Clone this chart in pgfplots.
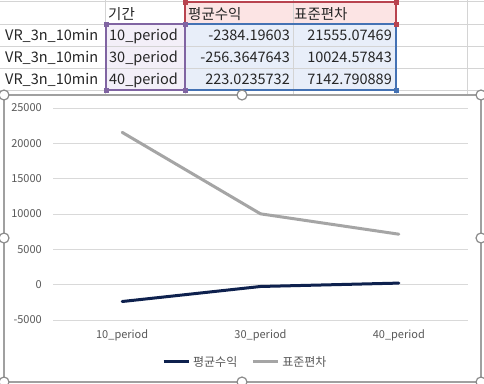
\documentclass[border=0pt]{standalone}
\usepackage{pgfplots}
\pgfplotsset{compat=1.18}
\usepackage{fontspec}
\setmainfont{Noto Sans CJK KR}
\definecolor{navy}{RGB}{14,33,78}
\definecolor{lgray}{RGB}{165,165,165}
\definecolor{gridc}{RGB}{217,217,217}
\definecolor{sheetgrid}{RGB}{212,212,212}
\definecolor{tickc}{RGB}{89,89,89}
\definecolor{chartb}{RGB}{160,160,160}
\definecolor{handle}{RGB}{140,140,140}
\definecolor{purp}{RGB}{128,100,162}
\definecolor{purpfill}{RGB}{243,239,248}
\definecolor{redb}{RGB}{184,67,79}
\definecolor{redfill}{RGB}{252,228,228}
\definecolor{blueb}{RGB}{68,114,180}
\definecolor{bluefill}{RGB}{232,238,249}
\begin{document}
\begin{tikzpicture}
\path[use as bounding box, clip] (0,0) rectangle (484pt,-383pt);
\fill[white] (0,0) rectangle (484pt,-383pt);
\begin{scope}[x=1pt,y=-1pt]
  % fills
  \fill[purpfill] (106,24) rectangle (185,90);
  \fill[redfill] (185,1) rectangle (396,24);
  \fill[bluefill] (185,24) rectangle (396,90);
  % sheet grid
  \foreach \yy in {1,24,46,68,90} \draw[sheetgrid, line width=1pt] (0,\yy) -- (484,\yy);
  \foreach \xx in {105,185,293,396,467} \draw[sheetgrid, line width=1pt] (\xx,0) -- (\xx,383);
  % range borders
  \draw[redb, line width=2pt] (185,1.5) rectangle (396,24);
  \draw[blueb, line width=2pt] (185,24) rectangle (396,90);
  \draw[purp, line width=2pt] (106,24) rectangle (185,90);
  \foreach \p in {(185,2),(396,2),(185,24),(396,24)} \fill[redb] \p ++(-2.5,-2.5) rectangle ++(5,5);
  \foreach \p in {(106,24),(185,24),(106,90),(185,90)} \fill[purp] \p ++(-2.5,-2.5) rectangle ++(5,5);
  \fill[blueb] (396,90) ++(-2.5,-2.5) rectangle ++(5,5);
  % text
  \begin{scope}[every node/.style={inner sep=0pt, font=\fontsize{14.5}{17}\selectfont, text=black!85}]
    \node[anchor=base west] at (108,19) {기간};
    \node[anchor=base west] at (188,19) {평균수익};
    \node[anchor=base west] at (294,19) {표준편차};
    \foreach \yb/\per/\m/\s in {40/10/-2384.19603/21555.07469, 62/30/-256.3647643/10024.57843, 84/40/223.0235732/7142.790889}{
      \node[anchor=base west] at (5,\yb) {VR\_3n\_10min};
      \node[anchor=base west] at (109,\yb) {\per\_period};
      \node[anchor=base east] at (290,\yb) {\m};
      \node[anchor=base east] at (392,\yb) {\s};
    }
  \end{scope}
  % chart area
  \filldraw[fill=white, draw=chartb, line width=1.5pt] (4,95) rectangle (481,382);
\end{scope}
\begin{axis}[
  at={(53pt,-320pt)}, anchor=south west,
  scale only axis, width=415pt, height=212pt,
  xmin=-0.5, xmax=2.5, ymin=-5000, ymax=25000,
  scaled y ticks=false,
  axis line style={draw=none},
  tick style={draw=none},
  ymajorgrids, major grid style={gridc, line width=1pt},
  xtick={0,1,2}, xticklabels={10\_period,30\_period,40\_period},
  ytick={-5000,0,5000,10000,15000,20000,25000},
  yticklabels={-5000,0,5000,10000,15000,20000,25000},
  ticklabel style={font=\fontsize{11}{13}\selectfont, text=tickc, inner sep=0pt},
  yticklabel style={anchor=east, xshift=-11pt},
  xticklabel style={anchor=north, yshift=-10pt},
  legend columns=2,
  legend style={draw=none, fill=none, at={(0.461,-0.198)}, anchor=center,
    font=\fontsize{12}{14}\selectfont, text=tickc, inner sep=0pt,
    nodes={inner sep=0pt},
    /tikz/every odd column/.append style={column sep=3pt},
    /tikz/every even column/.append style={column sep=14pt}},
  legend image code/.code={\draw[#1, line width=3pt, line cap=butt] (0pt,0pt) -- (25pt,0pt);},
]
\addplot[navy, line width=3pt, line cap=round] coordinates {(0,-2384.19603) (1,-256.3647643) (2,223.0235732)};
\addlegendentry{평균수익}
\addplot[lgray, line width=3pt, line cap=round] coordinates {(0,21555.07469) (1,10024.57843) (2,7142.790889)};
\addlegendentry{표준편차}
\end{axis}
\begin{scope}[x=1pt,y=-1pt]
  \foreach \p in {(4,95),(242,95),(481,95),(4,238),(481,238),(4,382),(242,382),(481,382)}
    \filldraw[fill=white, draw=handle, line width=1.2pt] \p circle (5);
\end{scope}
\end{tikzpicture}
\end{document}
